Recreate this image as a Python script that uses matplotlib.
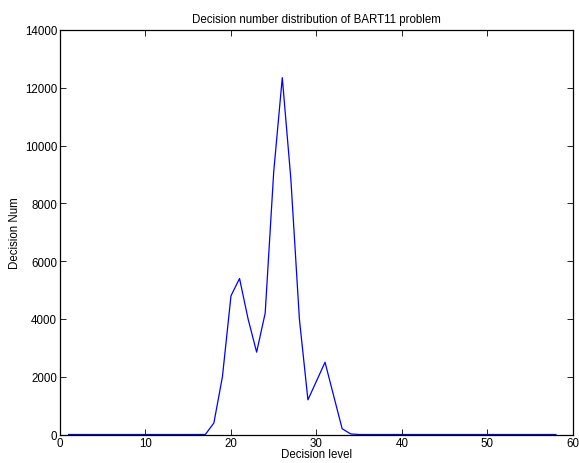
import numpy as np
import matplotlib
matplotlib.use("Agg")
import matplotlib.pyplot as plt

plt.rcParams['font.family'] = ['Liberation Sans', 'DejaVu Sans']

# decision level -> number of decisions
levels = list(range(1, 59))
nonzero = {
    18: 400, 19: 2000, 20: 4800, 21: 5400, 22: 4000, 23: 2850,
    24: 4200, 25: 9100, 26: 12350, 27: 8850, 28: 4000, 29: 1200,
    30: 1850, 31: 2500, 32: 1350, 33: 200, 34: 20,
}
counts = [nonzero.get(k, 0) for k in levels]

fig = plt.figure(figsize=(5.79, 4.64), dpi=100)
ax = fig.add_axes([0.1036, 0.0614, 0.886, 0.8718])

ax.plot(levels, counts, color='blue', linewidth=0.9)

ax.set_xlim(0, 60)
ax.set_ylim(0, 14000)
ax.set_xticks(np.arange(0, 61, 10))
ax.set_yticks(np.arange(0, 14001, 2000))

ax.tick_params(direction='in', top=True, right=True, labelsize=8.3, length=4, width=0.6, pad=2)
for s in ax.spines.values():
    s.set_linewidth(0.9)

ax.set_xlabel('Decision level', fontsize=8.3, labelpad=-1)
ax.set_ylabel('Decision Num', fontsize=8.3, labelpad=3)
ax.set_title('Decision number distribution of BART11 problem', fontsize=8.3, pad=6)

fig.savefig('out.png', dpi=100)
